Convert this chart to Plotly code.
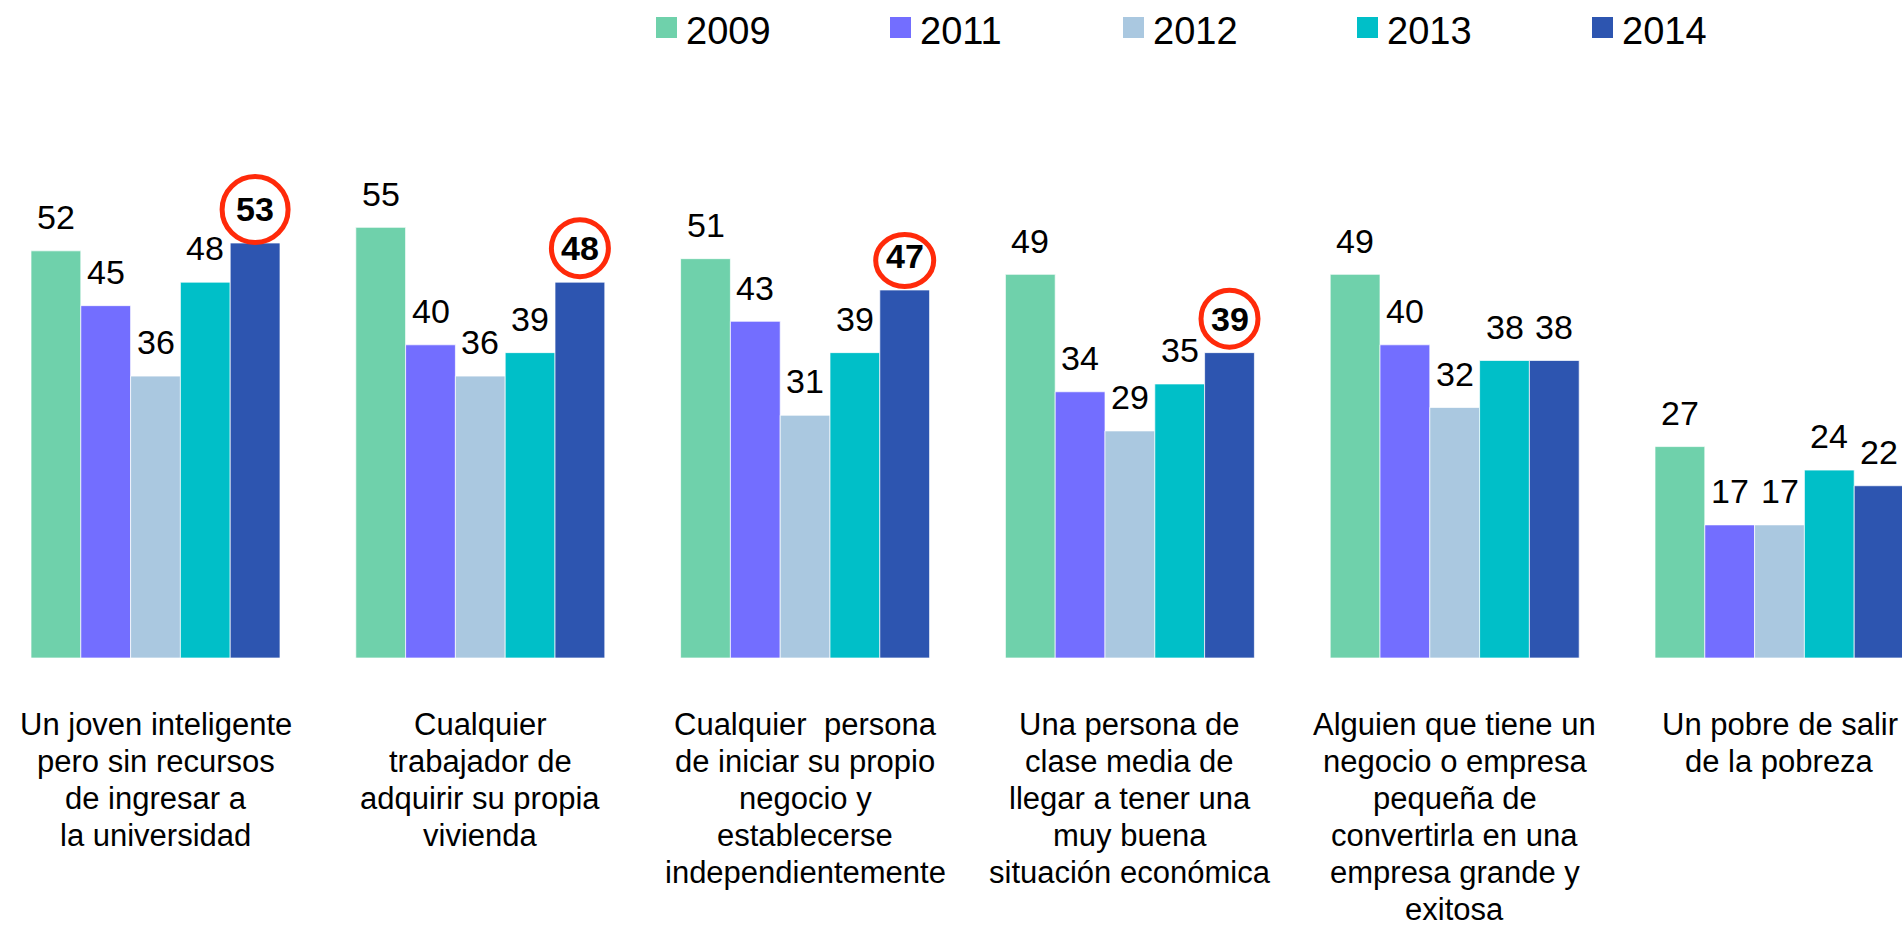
import plotly.graph_objects as go

# ---------------- data ----------------
categories = [
    "Un joven inteligente\npero sin recursos\nde ingresar a\nla universidad",
    "Cualquier\ntrabajador de\nadquirir su propia\nvivienda",
    "Cualquier  persona\nde iniciar su propio\nnegocio y\nestablecerse\nindependientemente",
    "Una persona de\nclase media de\nllegar a tener una\nmuy buena\nsituación económica",
    "Alguien que tiene un\nnegocio o empresa\npequeña de\nconvertirla en una\nempresa grande y\nexitosa",
    "Un pobre de salir\nde la pobreza",
]
years = ["2009", "2011", "2012", "2013", "2014"]
v2009 = [52, 55, 51, 49, 49, 27]
v2011 = [45, 40, 43, 34, 40, 17]
v2012 = [36, 36, 31, 29, 32, 17]
v2013 = [48, 39, 39, 35, 38, 24]
v2014 = [53, 48, 47, 39, 38, 22]
highlight_2014 = [True, True, True, True, False, False]

series = [v2009, v2011, v2012, v2013, v2014]
colors = ["#6FD1AB", "#736EFF", "#AAC8E0", "#00BFC8", "#2D55B0"]

# circle styling per highlighted group: (outer width px, outer height px, centre height above bar px)
circle_style = {0: (71, 71, 33.5), 1: (62, 62, 34), 2: (63, 57, 29.5), 3: (62, 62, 34)}

# ---------------- geometry ----------------
W, H = 1902, 928
MB = 270                       # bottom margin -> baseline at y=658
PLOT_H = H - MB
BARGAP = 0.2334
bw = (1 - BARGAP) / len(series)  # bar width in category units
FONT = "Arial, Liberation Sans, sans-serif"

fig = go.Figure()
xs = list(range(len(categories)))
for name, vals, col in zip(years, series, colors):
    fig.add_trace(go.Bar(
        x=xs, y=vals, name=name, marker_color=col,
        marker_line_width=1, marker_line_color="rgba(255,255,255,0.7)",
        showlegend=False, hoverinfo="x+y+name",
    ))

annotations = []
shapes = []

# value labels
for i, vals in enumerate(series):
    off = (i - (len(series) - 1) / 2) * bw
    for g, v in enumerate(vals):
        bold = (i == len(series) - 1) and highlight_2014[g]
        annotations.append(dict(
            x=g + off, y=v, xref="x", yref="y",
            text=f"<b>{v}</b>" if bold else str(v),
            showarrow=False, yanchor="middle", xanchor="center", yshift=33.8,
            font=dict(family=FONT, size=34, color="#000000"),
        ))
        if bold:
            ow, oh, cy = circle_style.get(g, (64, 64, 33.5))
            rx, ry = ow / 2 - 2.5, oh / 2 - 2.5
            shapes.append(dict(
                type="circle", xref="x", yref="y",
                xsizemode="pixel", ysizemode="pixel",
                xanchor=g + off, yanchor=v,
                x0=-rx, x1=rx, y0=cy - ry, y1=cy + ry,
                line=dict(color="#FF2A0A", width=5),
                fillcolor="rgba(0,0,0,0)",
            ))

# category labels (one annotation per line, 37px line pitch)
for g, cat in enumerate(categories):
    for k, line in enumerate(cat.split("\n")):
        baseline = 735 + 37 * k
        center = baseline - 0.3465 * 31
        annotations.append(dict(
            x=g, xref="x", y=(PLOT_H - center) / PLOT_H, yref="paper",
            text=line, showarrow=False, xanchor="center", yanchor="middle",
            font=dict(family=FONT, size=31, color="#000000"),
        ))

# legend (manual)
leg_x = [656, 890, 1123, 1357, 1592]
for name, col, lx in zip(years, colors, leg_x):
    shapes.append(dict(
        type="rect", xref="paper", yref="paper",
        x0=lx / W, x1=(lx + 21) / W,
        y0=(PLOT_H - 38) / PLOT_H, y1=(PLOT_H - 17) / PLOT_H,
        fillcolor=col, line=dict(width=0),
    ))
    annotations.append(dict(
        x=(lx + 28) / W, xref="paper", y=(PLOT_H - 30.6) / PLOT_H, yref="paper",
        text=name, showarrow=False, xanchor="left", yanchor="middle",
        font=dict(family=FONT, size=38, color="#000000"),
    ))

px_per_unit = 7.83
fig.update_layout(
    width=W, height=H,
    margin=dict(l=0, r=0, t=0, b=MB, pad=0),
    barmode="group", bargap=BARGAP, bargroupgap=0,
    plot_bgcolor="white", paper_bgcolor="white",
    xaxis=dict(visible=False, range=[-155.5 / 324.8, (W - 155.5) / 324.8]),
    yaxis=dict(visible=False, range=[0, PLOT_H / px_per_unit]),
    annotations=annotations, shapes=shapes,
    showlegend=False,
)

fig.write_html("out.html", config={"displayModeBar": False},
               post_script="document.body.style.margin='0';")
